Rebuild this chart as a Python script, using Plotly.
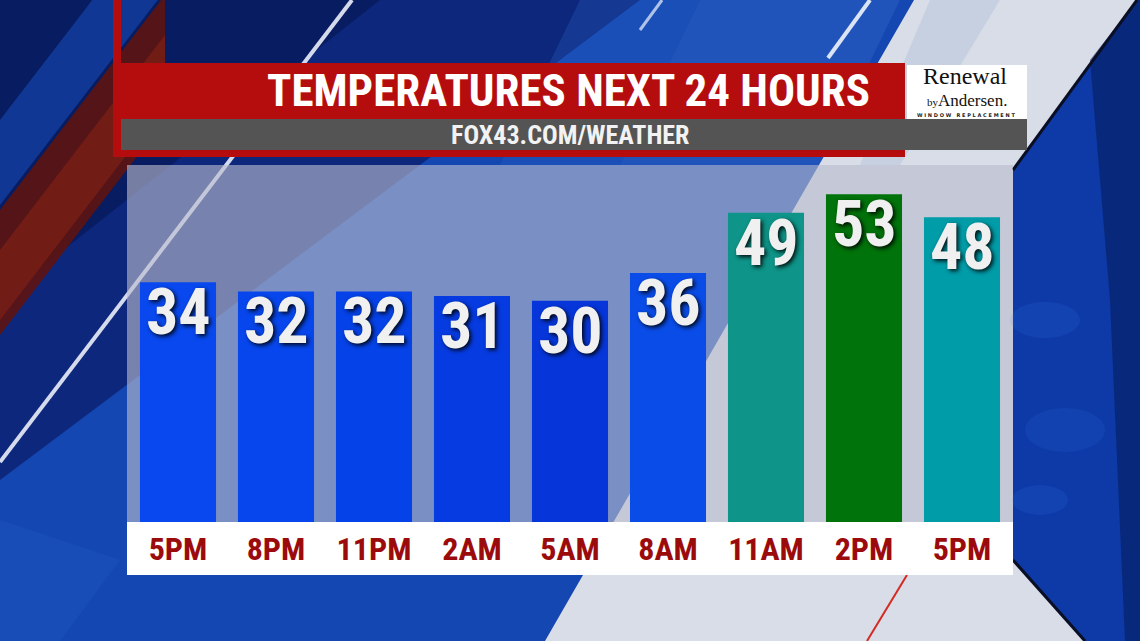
import plotly.graph_objects as go

# ---------------- data ----------------
hours = ["5PM", "8PM", "11PM", "2AM", "5AM", "8AM", "11AM", "2PM", "5PM"]
temps = [34, 32, 32, 31, 30, 36, 49, 53, 48]
bar_colors = ["#0848EE", "#0646EC", "#0542E8", "#063BE2", "#0636DA",
              "#0A4CE8", "#0E9488", "#00730A", "#009CA8"]
title_text = "TEMPERATURES NEXT 24 HOURS"
subtitle_text = "FOX43.COM/WEATHER"

AXIS_MIN, AXIS_MAX = -17.8, 59.3

# ---------------- geometry helpers ----------------
W, H = 1140, 641
L, R, T, B = 129, 129, 165, 119
PW, PH = W - L - R, H - T - B


def px(x):
    return (x - L) / PW


def py(y):
    return (H - B - y) / PH


def poly(points):
    return "M " + " L ".join(f"{px(x):.5f},{py(y):.5f}" for x, y in points) + " Z"


shapes = []


def add_poly(points, color, opacity=1.0):
    shapes.append(dict(type="path", path=poly(points), xref="paper", yref="paper",
                       fillcolor=color, opacity=opacity, layer="below",
                       line=dict(color="rgba(0,0,0,0)", width=0)))


def add_rect(x0, y0, x1, y1, color, opacity=1.0):
    shapes.append(dict(type="rect", xref="paper", yref="paper",
                       x0=px(x0), x1=px(x1), y0=py(y1), y1=py(y0),
                       fillcolor=color, opacity=opacity, layer="below",
                       line=dict(width=0)))


def add_line(x0, y0, x1, y1, color, width):
    shapes.append(dict(type="line", xref="paper", yref="paper",
                       x0=px(x0), y0=py(y0), x1=px(x1), y1=py(y1),
                       line=dict(color=color, width=width), layer="below"))


# ---------------- background ----------------
add_poly([(0, 0), (640, 0), (0, 480)], "#0a2272", 0.85)
add_poly([(0, 0), (380, 0), (0, 300)], "#061650", 0.6)
add_poly([(0, 120), (0, 205), (160, -3), (160, -88)], "#1a4fc0", 0.55)
# red band
add_poly([(0, 210), (0, 335), (165, 120), (165, -5)], "#5e1410", 0.9)
add_poly([(0, 250), (0, 320), (165, 105), (165, 35)], "#8a2316", 0.55)
# lighter stripes
add_poly([(580, 0), (700, 0), (620, 165), (500, 165)], "#2a62c8", 0.3)
add_poly([(700, 0), (900, 0), (820, 165), (620, 165)], "#3a6cc8", 0.35)
add_poly([(0, 520), (0, 641), (60, 641), (120, 560)], "#2a62c8", 0.2)
# light grey area right/bottom
add_poly([(914, 0), (1137, 0), (1013, 170), (1013, 560), (1085, 641), (545, 641)], "#d8dde7")
add_poly([(930, 0), (1000, 0), (900, 165), (860, 165)], "#bcc8de", 0.6)
# cloud region
add_poly([(1137, 0), (1140, 0), (1140, 641), (1085, 641), (1013, 560), (1013, 170)], "#0d3aa6")
add_poly([(1137, 0), (1140, 0), (1140, 641), (1125, 641), (1110, 300), (1090, 60)], "#061a5a", 0.55)
for (cx, cy, rx, ry, op) in [(1045, 320, 35, 18, 0.2), (1065, 430, 40, 22, 0.18),
                             (1040, 500, 28, 15, 0.2)]:
    shapes.append(dict(type="circle", xref="paper", yref="paper",
                       x0=px(cx - rx), x1=px(cx + rx), y0=py(cy + ry), y1=py(cy - ry),
                       fillcolor="#2a6ae0", opacity=op, line=dict(width=0), layer="below"))
add_line(1137, 0, 1013, 170, "#0a0f25", 3)
add_line(1013, 560, 1085, 641, "#0a0f25", 3)
# white streaks
add_line(0, 462, 352, 0, "rgba(235,240,250,0.9)", 4)
add_line(870, 0, 828, 58, "rgba(240,244,252,0.9)", 4)
add_line(662, 0, 640, 30, "rgba(240,244,252,0.7)", 3)
# bottom red streak
add_line(907, 575, 867, 641, "#d42a22", 2)

# ---------------- chart panel ----------------
add_rect(127, 165, 1013, 522, "rgb(185,188,205)", 0.62)
add_rect(127, 522, 1013, 575, "#ffffff")

# ---------------- title block ----------------
add_rect(113, 0, 121, 63, "#b50d0d")
add_rect(113, 63, 905, 157, "#b50d0d")
add_rect(907, 65, 1027, 119, "#ffffff")
add_rect(121, 119, 1027, 150, "#545454")

condensed = "Liberation Sans Narrow, Roboto Condensed, DejaVu Sans Condensed, Arial Narrow, sans-serif"
serif = "Liberation Serif, DejaVu Serif, serif"

annotations = [
    dict(text=title_text, xref="paper", yref="paper", x=px(872), y=py(90),
         xanchor="right", yanchor="middle", showarrow=False,
         font=dict(family=condensed, size=45, color="#ffffff", weight=700)),
    dict(text=subtitle_text, xref="paper", yref="paper", x=px(570), y=py(135),
         xanchor="center", yanchor="middle", showarrow=False,
         font=dict(family=condensed, size=26, color="#f2f2f2", weight=700)),
    dict(text="Renewal", xref="paper", yref="paper", x=px(965), y=py(76),
         xanchor="center", yanchor="middle", showarrow=False, borderpad=0,
         font=dict(family=serif, size=24, color="#111111")),
    dict(text="<span style='font-size:11px'>by</span>Andersen.", xref="paper", yref="paper",
         x=px(967), y=py(100), xanchor="center", yanchor="middle", showarrow=False, borderpad=0,
         font=dict(family=serif, size=17, color="#111111")),
    dict(text="W I N D O W &nbsp; R E P L A C E M E N T", xref="paper", yref="paper",
         x=px(966), y=py(114.5), xanchor="center", yanchor="middle", showarrow=False, borderpad=0,
         font=dict(family="DejaVu Sans, sans-serif", size=5, color="#222222", weight=700)),
]

xs = list(range(len(hours)))

# value labels just inside the top of each bar
for xi, t in zip(xs, temps):
    annotations.append(dict(
        x=xi, y=t, xref="x", yref="y", text=str(t), showarrow=False,
        xanchor="center", yanchor="top", yshift=8, borderpad=0,
        font=dict(family=condensed, size=64, color="#f0f0f0", weight=700,
                  shadow="2px 2px 4px rgba(0,0,0,0.9)"),
    ))

# ---------------- bars ----------------
fig = go.Figure(go.Bar(
    x=xs,
    y=[t - AXIS_MIN for t in temps],
    base=AXIS_MIN,
    marker=dict(color=bar_colors, line=dict(width=0)),
    width=0.776,
    hoverinfo="skip",
))

fig.update_layout(
    width=W, height=H,
    margin=dict(l=L, r=R, t=T, b=B, pad=0),
    paper_bgcolor="#1447b2",
    plot_bgcolor="rgba(0,0,0,0)",
    showlegend=False,
    shapes=shapes,
    annotations=annotations,
    xaxis=dict(range=[-0.5, len(hours) - 0.5], tickvals=xs, ticktext=hours,
               showgrid=False, zeroline=False, showline=False, ticks="",
               ticklabelstandoff=5,
               tickfont=dict(family=condensed, size=32, color="#9c0b0b", weight=700),
               fixedrange=True),
    yaxis=dict(range=[AXIS_MIN, AXIS_MAX], visible=False, fixedrange=True),
)

fig.write_html("out.html", config={"displayModeBar": False},
               post_script="document.body.style.margin='0';")
